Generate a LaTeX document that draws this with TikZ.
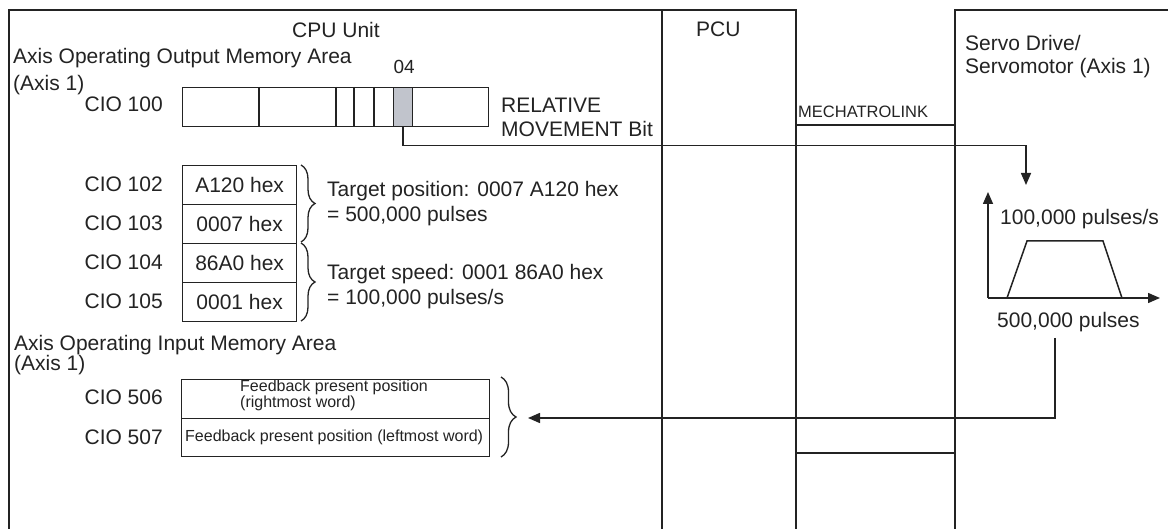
\documentclass[tikz,border=0pt]{standalone}
\usepackage{fontspec}
\setmainfont{Liberation Sans}
\usetikzlibrary{arrows.meta,decorations.pathreplacing,calc}
\definecolor{bitgray}{RGB}{193,196,204}
\definecolor{ink}{RGB}{35,35,35}
\begin{document}
\begin{tikzpicture}[x=1pt,y=-1pt,
  line/.style={draw=ink,line width=1.5pt},
  frame/.style={draw=ink,line width=1.6pt},
  arr/.style={draw=ink,line width=1.5pt,-{Triangle[length=12pt,width=10pt]}},
  txt/.style={inner sep=0pt,anchor=base west,font=\fontsize{21}{25}\selectfont,text=ink},
  txtr/.style={txt,anchor=base east},
  small/.style={inner sep=0pt,anchor=base west,font=\fontsize{16}{19}\selectfont,text=ink},
  cell/.style={draw=ink,line width=1.3pt,minimum width=114pt,minimum height=39pt,inner sep=0pt,anchor=north west,font=\fontsize{21}{25}\selectfont,text=ink},
  brc/.style={draw=ink,line width=1.3pt,decorate,decoration={brace,amplitude=#1}},
  brc/.default=14pt
]
\useasboundingbox (0,0) rectangle (1168,529);
\clip (0,0) rectangle (1168,529);
\fill[white] (0,0) rectangle (1168,529);
% frames
\draw[frame] (9,535) -- (9,10) -- (662,10) -- (662,535);
\draw[frame] (662,10) -- (796,10) -- (796,535);
\draw[frame] (955,535) -- (955,10) -- (1175,10);
\draw[line] (796,125) -- (955,125);
\draw[line] (796,453) -- (955,453);
% titles
\node[txt,anchor=base] (cpu) at (336,38) {CPU Unit};
\node[txt] (pcu) at (696,37) {PCU};
\node[txt] (servoA) at (965,51) {Servo Drive/};
\node[txt] (servoB) at (965,74) {Servomotor (Axis 1)};
\node[inner sep=0pt,anchor=base west,font=\fontsize{16.5}{19}\selectfont,text=ink] (mlink) at (798,118) {MECHATROLINK};
% output area
\node[txt] (outA) at (13,64) {Axis Operating Output Memory Area};
\node[txt] (outB) at (13,91) {(Axis 1)};
\node[txtr] (lbl100) at (163,112) {CIO 100};
\node[cell,minimum width=306pt] (word100) at (182,87) {};
\foreach \xx in {259,336,354,374} \draw[draw=ink,line width=1.3pt] (\xx,87) -- (\xx,126);
\node[cell,minimum width=19pt,fill=bitgray] (bit04) at (393,87) {};
\node[inner sep=0pt,anchor=base,font=\fontsize{19}{22}\selectfont,text=ink] (lbl04) at ($(bit04.north)+(1,-13)$) {04};
\node[txt] (relA) at (501,113) {RELATIVE};
\node[txt] (relB) at (501,137) {MOVEMENT Bit};
% words 102-105
\node[cell] (w102) at (182,165) {A120 hex};
\node[cell] (w103) at (182,204) {0007 hex};
\node[cell] (w104) at (182,243) {86A0 hex};
\node[cell] (w105) at (182,282) {0001 hex};
\node[txtr] (l102) at (163,192) {CIO 102};
\node[txtr] (l103) at (163,231) {CIO 103};
\node[txtr] (l104) at (163,270) {CIO 104};
\node[txtr] (l105) at (163,309) {CIO 105};
\draw[brc] (301,165) -- (301,242);
\draw[brc] (301,243) -- (301,321);
\node[txt] (tpA) at (327,197) {Target position: 0007 A120 hex};
\node[txt] (tpB) at (327,222) {= 500,000 pulses};
\node[txt] (tsA) at (327,280) {Target speed: 0001 86A0 hex};
\node[txt] (tsB) at (327,305) {= 100,000 pulses/s};
% input area
\node[txt] (inA) at (14,351) {Axis Operating Input Memory Area};
\node[txt] (inB) at (14,371) {(Axis 1)};
\node[cell,minimum width=308pt,minimum height=39pt] (w506) at (181,379) {};
\node[cell,minimum width=308pt,minimum height=38pt] (w507) at (181,418) {};
\node[small,align=left,font=\fontsize{16}{12.5}\selectfont] (f1) at (240,407.5) {Feedback present position\\(rightmost word)};
\node[small] (f3) at (185,442) {Feedback present position (leftmost word)};
\node[txtr] (l506) at (163,405) {CIO 506};
\node[txtr] (l507) at (163,444) {CIO 507};
\draw[brc=15pt] (501,377) -- (501,457);
% servo graph
\coordinate (org) at (988,298);
\coordinate (yend) at (988,192);
\coordinate (xend) at (1160,298);
\draw[arr] (org) -- (yend);
\draw[arr] (org) -- (xend);
\draw[line,line join=miter] (1007,298) -- (1027,241) -- (1103,241) -- (1122,298);
\node[txt] (vlbl) at (1000,225) {100,000 pulses/s};
\node[txt] (plbl) at (997,328) {500,000 pulses};
% connectors
\coordinate (drvin) at (1026,185);
\draw[arr] (bit04.south) -- ++(0,18) -| (drvin);
\coordinate (fbsrc) at (1055,338);
\coordinate (fbdst) at (528,418);
\draw[arr] (fbsrc) |- (fbdst);
\end{tikzpicture}
\end{document}
